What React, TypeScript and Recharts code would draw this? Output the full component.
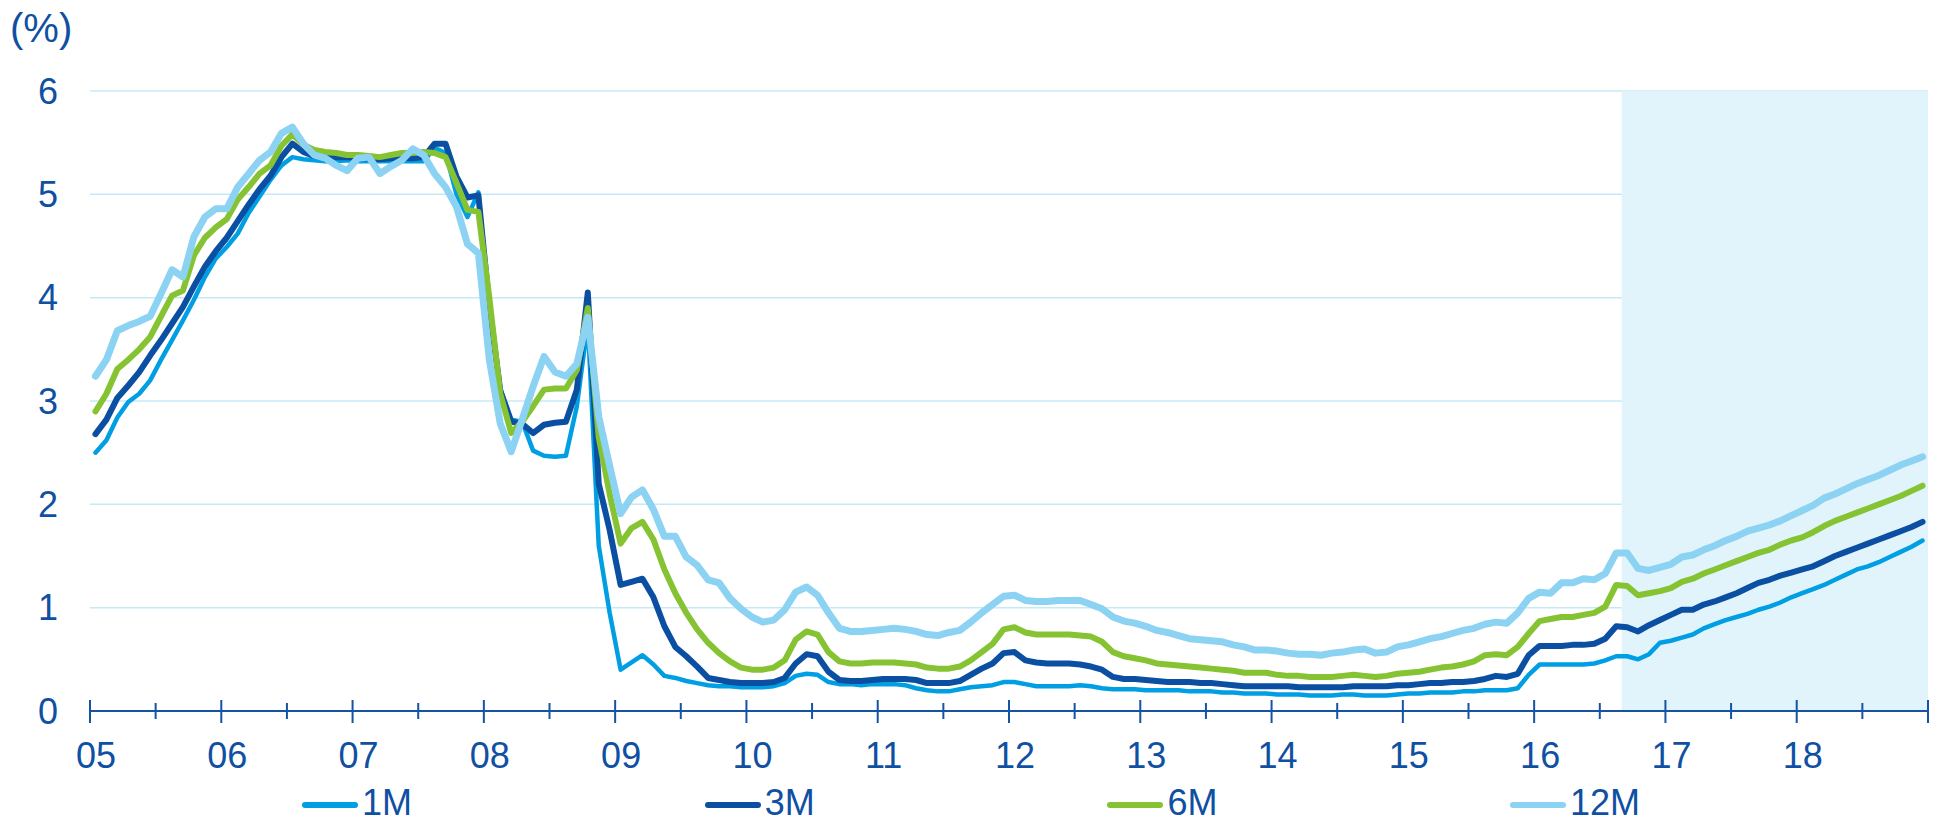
import React from 'react';
import {
  LineChart, Line, XAxis, YAxis, CartesianGrid, ReferenceArea, Legend,
} from 'recharts';

const FONT = '"Liberation Sans", Arial, Helvetica, sans-serif';
const TEXT = '#0f50a2';
const AXIS = '#1553a3';
const GRID = '#c6e9f8';
const SHADE = '#e2f4fb';

const YEAR_LABELS = ['05', '06', '07', '08', '09', '10', '11', '12', '13', '14', '15', '16', '17', '18'];
const FIRST_YEAR = 5;
const LAST_YEAR = 19;
const FORECAST_START = 16 + 8 / 12;
const Y_TICKS = [0, 1, 2, 3, 4, 5, 6];

const SERIES_NAMES = ['1M', '3M', '6M', '12M'];
const SERIES_COLORS = ['#009fe3', '#0b4fa2', '#86c332', '#8cd2f2'];
const SERIES_WIDTHS = [4.5, 6, 6, 7];

// monthly, Jan 2005 .. Dec 2018
const M1 = [
  2.50, 2.62, 2.84, 2.99, 3.07, 3.20, 3.40, 3.59, 3.78, 3.98, 4.20, 4.38,
  4.49, 4.62, 4.82, 4.98, 5.14, 5.28, 5.36, 5.34, 5.33, 5.32, 5.32, 5.33,
  5.32, 5.32, 5.32, 5.32, 5.32, 5.32, 5.32, 5.45, 5.40, 5.00, 4.78, 5.02,
  3.90, 3.12, 2.82, 2.80, 2.52, 2.47, 2.46, 2.47, 2.95, 3.75, 1.60, 0.95,
  0.40, 0.47, 0.54, 0.45, 0.34, 0.32, 0.29, 0.27, 0.25, 0.24, 0.24, 0.23,
  0.23, 0.23, 0.24, 0.27, 0.34, 0.36, 0.35, 0.28, 0.26, 0.26, 0.25, 0.26,
  0.26, 0.26, 0.25, 0.22, 0.20, 0.19, 0.19, 0.21, 0.23, 0.24, 0.25, 0.28,
  0.28, 0.26, 0.24, 0.24, 0.24, 0.24, 0.25, 0.24, 0.22, 0.21, 0.21, 0.21,
  0.20, 0.20, 0.20, 0.20, 0.19, 0.19, 0.19, 0.18, 0.18, 0.17, 0.17, 0.17,
  0.16, 0.16, 0.16, 0.15, 0.15, 0.15, 0.16, 0.16, 0.15, 0.15, 0.15, 0.16,
  0.17, 0.17, 0.18, 0.18, 0.18, 0.19, 0.19, 0.20, 0.20, 0.20, 0.22, 0.35,
  0.45, 0.45, 0.45, 0.45, 0.45, 0.46, 0.49, 0.53, 0.53, 0.50, 0.55, 0.66,
  0.68, 0.71, 0.74, 0.80, 0.84, 0.88, 0.91, 0.94, 0.98, 1.01, 1.05, 1.10,
  1.14, 1.18, 1.22, 1.27, 1.32, 1.37, 1.40, 1.44, 1.49, 1.54, 1.59, 1.65,
];

const M3 = [
  2.68, 2.82, 3.03, 3.15, 3.28, 3.44, 3.59, 3.75, 3.91, 4.11, 4.30, 4.45,
  4.58, 4.74, 4.90, 5.05, 5.18, 5.36, 5.49, 5.41, 5.37, 5.36, 5.36, 5.36,
  5.35, 5.35, 5.34, 5.35, 5.35, 5.35, 5.36, 5.49, 5.49, 5.17, 4.97, 4.99,
  3.92, 3.10, 2.80, 2.78, 2.69, 2.77, 2.79, 2.80, 3.11, 4.05, 2.20, 1.75,
  1.22, 1.25, 1.28, 1.10, 0.82, 0.62, 0.53, 0.43, 0.32, 0.30, 0.28, 0.27,
  0.27, 0.27, 0.28, 0.32, 0.46, 0.55, 0.53, 0.38, 0.30, 0.29, 0.29, 0.30,
  0.31, 0.31, 0.31, 0.30, 0.27, 0.27, 0.27, 0.29, 0.35, 0.41, 0.46, 0.56,
  0.57, 0.49, 0.47, 0.46, 0.46, 0.46, 0.45, 0.43, 0.40, 0.33, 0.31, 0.31,
  0.30, 0.29, 0.28, 0.28, 0.28, 0.27, 0.27, 0.26, 0.25, 0.24, 0.24, 0.24,
  0.24, 0.24, 0.23, 0.23, 0.23, 0.23, 0.23, 0.24, 0.24, 0.24, 0.24, 0.25,
  0.25, 0.26, 0.27, 0.27, 0.28, 0.28, 0.29, 0.31, 0.34, 0.33, 0.36, 0.54,
  0.63, 0.63, 0.63, 0.64, 0.64, 0.65, 0.70, 0.82, 0.81, 0.77, 0.83, 0.88,
  0.93, 0.98, 0.98, 1.03, 1.06, 1.10, 1.14, 1.19, 1.24, 1.27, 1.31, 1.34,
  1.37, 1.40, 1.45, 1.50, 1.54, 1.58, 1.62, 1.66, 1.70, 1.74, 1.78, 1.83,
];

const M6 = [
  2.90, 3.07, 3.31, 3.40, 3.50, 3.62, 3.82, 4.02, 4.07, 4.41, 4.58, 4.68,
  4.76, 4.95, 5.07, 5.20, 5.28, 5.47, 5.58, 5.48, 5.43, 5.41, 5.40, 5.38,
  5.38, 5.37, 5.36, 5.38, 5.40, 5.40, 5.41, 5.40, 5.36, 5.11, 4.85, 4.83,
  4.00, 3.07, 2.69, 2.80, 2.95, 3.11, 3.12, 3.12, 3.30, 3.90, 2.65, 2.10,
  1.62, 1.77, 1.83, 1.66, 1.37, 1.14, 0.95, 0.79, 0.66, 0.56, 0.48, 0.42,
  0.40, 0.40, 0.42, 0.49, 0.69, 0.77, 0.74, 0.57, 0.48, 0.46, 0.46, 0.47,
  0.47, 0.47, 0.46, 0.45, 0.42, 0.41, 0.41, 0.43, 0.49, 0.57, 0.65, 0.79,
  0.81, 0.76, 0.74, 0.74, 0.74, 0.74, 0.73, 0.72, 0.67, 0.57, 0.53, 0.51,
  0.49, 0.46, 0.45, 0.44, 0.43, 0.42, 0.41, 0.40, 0.39, 0.37, 0.37, 0.37,
  0.35, 0.34, 0.34, 0.33, 0.33, 0.33, 0.34, 0.35, 0.34, 0.33, 0.34, 0.36,
  0.37, 0.38, 0.40, 0.42, 0.43, 0.45, 0.48, 0.54, 0.55, 0.54, 0.62, 0.75,
  0.87, 0.89, 0.91, 0.91, 0.93, 0.95, 1.01, 1.22, 1.21, 1.12, 1.14, 1.16,
  1.19, 1.25, 1.28, 1.33, 1.37, 1.41, 1.45, 1.49, 1.53, 1.56, 1.61, 1.65,
  1.68, 1.73, 1.79, 1.84, 1.88, 1.92, 1.96, 2.00, 2.04, 2.08, 2.13, 2.18,
];

const M12 = [
  3.24, 3.40, 3.68, 3.73, 3.77, 3.82, 4.04, 4.27, 4.20, 4.59, 4.78, 4.86,
  4.86, 5.07, 5.20, 5.33, 5.41, 5.59, 5.65, 5.49, 5.38, 5.35, 5.28, 5.23,
  5.35, 5.36, 5.20, 5.27, 5.33, 5.44, 5.38, 5.20, 5.07, 4.88, 4.52, 4.43,
  3.40, 2.78, 2.51, 2.82, 3.14, 3.43, 3.28, 3.24, 3.36, 3.81, 2.85, 2.37,
  1.91, 2.07, 2.14, 1.95, 1.69, 1.69, 1.49, 1.41, 1.27, 1.24, 1.09, 0.99,
  0.91, 0.86, 0.88, 0.98, 1.15, 1.20, 1.12, 0.95, 0.80, 0.77, 0.77, 0.78,
  0.79, 0.80, 0.79, 0.77, 0.74, 0.73, 0.76, 0.78, 0.86, 0.95, 1.03, 1.11,
  1.12, 1.07, 1.06, 1.06, 1.07, 1.07, 1.07, 1.03, 0.99, 0.91, 0.87, 0.85,
  0.82, 0.78, 0.76, 0.73, 0.70, 0.69, 0.68, 0.67, 0.64, 0.62, 0.59, 0.59,
  0.58, 0.56, 0.55, 0.55, 0.54, 0.56, 0.57, 0.59, 0.60, 0.56, 0.57, 0.62,
  0.64, 0.67, 0.70, 0.72, 0.75, 0.78, 0.80, 0.84, 0.86, 0.85, 0.95, 1.09,
  1.15, 1.14, 1.24, 1.24, 1.28, 1.27, 1.33, 1.53, 1.53, 1.38, 1.36, 1.39,
  1.42, 1.49, 1.51, 1.56, 1.60, 1.65, 1.69, 1.74, 1.77, 1.80, 1.84, 1.89,
  1.94, 1.99, 2.06, 2.10, 2.15, 2.20, 2.24, 2.28, 2.33, 2.38, 2.42, 2.46,
];

const SERIES_KEYS = ['m1', 'm3', 'm6', 'm12'];
const SERIES_VALUES = [M1, M3, M6, M12];

const data = M1.map((_, i) => {
  const row: Record<string, number> = { t: FIRST_YEAR + (i + 0.5) / 12 };
  SERIES_KEYS.forEach((k, s) => { row[k] = SERIES_VALUES[s][i]; });
  return row;
});

const X_TICKS: number[] = [];
for (let y = FIRST_YEAR; y <= LAST_YEAR; y += 0.5) X_TICKS.push(y);

const XTick = (props: any) => {
  const { x, y, payload } = props;
  const v = payload.value as number;
  const major = Math.abs(v - Math.round(v)) < 1e-6;
  const idx = Math.round(v) - FIRST_YEAR;
  return (
    <g>
      <line x1={x} x2={x} y1={major ? y - 11 : y - 8} y2={major ? y + 12 : y + 8}
        stroke={AXIS} strokeWidth={2} />
      {major && idx < YEAR_LABELS.length && (
        <text x={x + 6} y={y + 57} textAnchor="middle" fill={TEXT}
          fontSize={36} fontFamily={FONT}>{YEAR_LABELS[idx]}</text>
      )}
    </g>
  );
};

const renderLegend = () => (
  <div style={{ display: 'flex', paddingLeft: 294, fontFamily: FONT }}>
    {SERIES_NAMES.map((name, i) => (
      <div key={name} style={{ width: 402.7, display: 'flex', alignItems: 'center' }}>
        <span style={{
          display: 'inline-block', width: 56, height: 6, borderRadius: 3,
          background: SERIES_COLORS[i], marginTop: 3,
        }} />
        <span style={{ marginLeft: 4, fontSize: 36, color: TEXT, lineHeight: '36px' }}>{name}</span>
      </div>
    ))}
  </div>
);

export default function App() {
  return (
    <div style={{ width: 1925, height: 822, marginTop: -8, fontFamily: FONT }}>
      <LineChart width={1925} height={822} data={data}
        margin={{ top: 91, right: 5, left: 0, bottom: 0 }}>
        <ReferenceArea x1={FORECAST_START} x2={LAST_YEAR} fill={SHADE} fillOpacity={1} stroke="none" />
        <CartesianGrid vertical={false} stroke={GRID} strokeWidth={1.5} />
        <XAxis type="number" dataKey="t" domain={[FIRST_YEAR, LAST_YEAR]} ticks={X_TICKS}
          interval={0} tickSize={0} tickMargin={0} height={111}
          axisLine={{ stroke: AXIS, strokeWidth: 2 }} tickLine={false} tick={<XTick />} />
        <YAxis type="number" domain={[0, 6]} ticks={Y_TICKS} width={82}
          axisLine={false} tickLine={false} tickSize={0} tickMargin={32}
          tick={{ fill: TEXT, fontSize: 36, fontFamily: FONT }}
          label={{
            content: () => (
              <text x={2} y={42} fill={TEXT} fontSize={40} fontFamily={FONT}>(%)</text>
            ),
          }} />
        {SERIES_KEYS.map((k, i) => (
          <Line key={k} type="linear" dataKey={k} name={SERIES_NAMES[i]}
            stroke={SERIES_COLORS[i]} strokeWidth={SERIES_WIDTHS[i]}
            strokeLinejoin="round" strokeLinecap="round"
            dot={false} activeDot={false} isAnimationActive={false} />
        ))}
        <Legend layout="horizontal" verticalAlign="middle" align="center"
          wrapperStyle={{ top: 785, left: 0, width: 1925, height: 40 }}
          content={renderLegend} />
      </LineChart>
    </div>
  );
}
